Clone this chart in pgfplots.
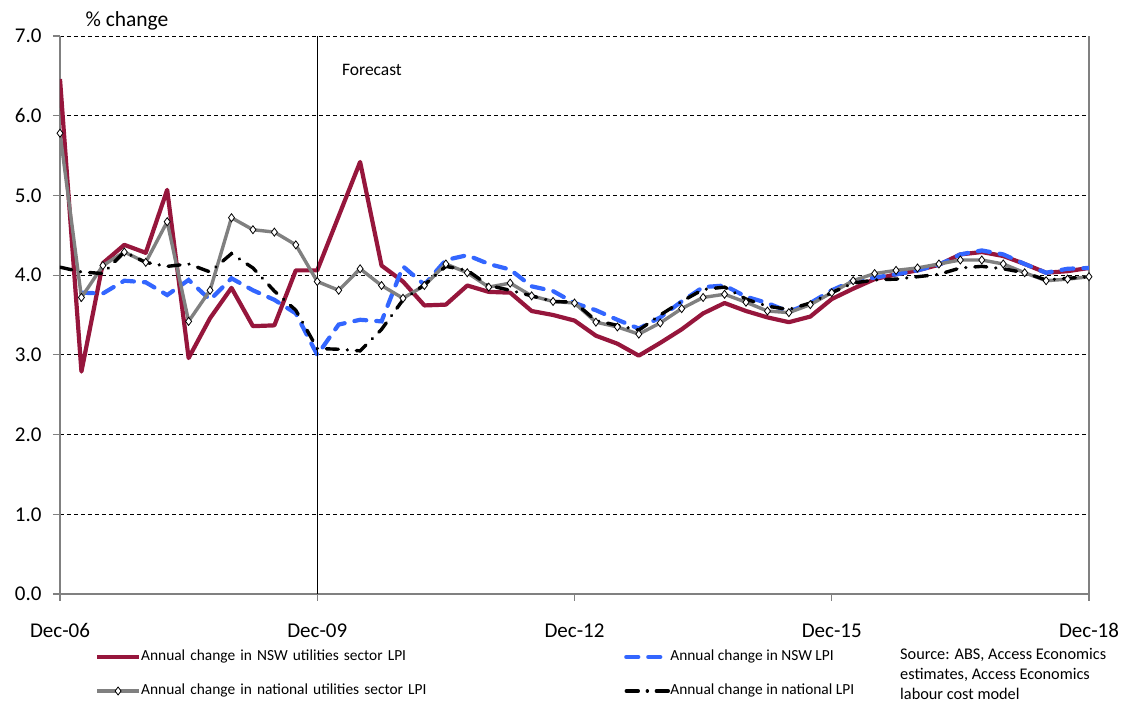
\documentclass[border=0pt]{standalone}
\usepackage{fontspec}
\setmainfont{Carlito}
\usepackage{pgfplots}
\pgfplotsset{compat=1.18}
\definecolor{nswred}{RGB}{150,22,60}
\definecolor{nswblue}{RGB}{51,102,255}
\definecolor{axgray}{RGB}{128,128,128}

\begin{document}
\begin{tikzpicture}
\useasboundingbox (-60pt,-109pt) rectangle (1070pt,594pt);
\begin{axis}[
  at={(0pt,0pt)}, anchor=origin,
  scale only axis, width=1029pt, height=558pt,
  xmin=0, xmax=48, ymin=0, ymax=7,
  axis x line*=bottom, axis y line*=box,
  axis line style={draw=axgray, line width=1.5pt},
  tick align=outside, major tick length=7pt,
  tick style={axgray, line width=1.2pt},
  ytick pos=left, xtick pos=bottom,
  ytick={0,1,2,3,4,5,6,7},
  xtick={0,12,24,36,48},
  xticklabels={Dec-06,Dec-09,Dec-12,Dec-15,Dec-18},
  /pgf/number format/assume math mode=true,
  yticklabel style={/pgf/number format/.cd, fixed, fixed zerofill, precision=1, /tikz/.cd, xshift=-8pt},
  xticklabel style={yshift=-19pt},
  tick label style={font=\fontsize{21}{25}\selectfont, black},
  ymajorgrids,
  major grid style={black, line width=0.8pt, dash pattern=on 4pt off 3pt},
  ylabel={\% change},
  ylabel style={rotate=-90, anchor=west, at={(axis description cs:0.0214,1.027)}, font=\fontsize{21.5}{25}\selectfont},
  legend columns=2,
  legend cell align=left,
  legend style={
    at={(axis description cs:0.034,-0.0995)}, anchor=north west,
    draw=none, fill=none, inner sep=0pt, outer sep=0pt,
    font=\fontsize{15.4}{18}\selectfont,
    row sep=19pt, column sep=0pt,
    nodes={inner xsep=0pt, inner ysep=0pt, text height=11pt, text depth=4pt},
    /tikz/column 2/.style={nodes={text width=483pt}},
  },
  legend image code/.code={%
    \draw[mark repeat=2,mark phase=2,#1] plot coordinates {(0pt,0pt) (21pt,0pt) (42pt,0pt)};
  },
]
\addplot[nswred, line width=4.2pt, line join=round] coordinates {
(0,6.46)(1,2.79)(2,4.15)(3,4.38)(4,4.28)(5,5.07)(6,2.96)(7,3.46)(8,3.84)(9,3.36)
(10,3.37)(11,4.06)(12,4.06)(13,4.74)(14,5.42)(15,4.12)(16,3.92)(17,3.62)(18,3.63)(19,3.87)
(20,3.79)(21,3.78)(22,3.55)(23,3.50)(24,3.43)(25,3.24)(26,3.14)(27,2.99)(28,3.15)(29,3.32)
(30,3.52)(31,3.65)(32,3.55)(33,3.47)(34,3.41)(35,3.48)(36,3.70)(37,3.83)(38,3.95)(39,4.01)
(40,4.06)(41,4.13)(42,4.26)(43,4.29)(44,4.24)(45,4.14)(46,4.03)(47,4.05)(48,4.09)
};
\addlegendentry{Annual change in NSW utilities sector LPI}
\addplot[nswblue, line width=4.2pt, line cap=round, dash pattern=on 12pt off 10pt] coordinates {
(1,3.78)(2,3.77)(3,3.93)(4,3.91)(5,3.75)(6,3.94)(7,3.69)(8,3.96)(9,3.81)
(10,3.69)(11,3.52)(12,3.00)(13,3.38)(14,3.44)(15,3.42)(16,4.11)(17,3.88)(18,4.19)(19,4.25)
(20,4.14)(21,4.07)(22,3.86)(23,3.80)(24,3.65)(25,3.56)(26,3.44)(27,3.33)(28,3.47)(29,3.67)
(30,3.85)(31,3.87)(32,3.73)(33,3.65)(34,3.54)(35,3.65)(36,3.81)(37,3.93)(38,3.97)(39,4.01)
(40,4.06)(41,4.13)(42,4.26)(43,4.31)(44,4.26)(45,4.14)(46,4.03)(47,4.08)(48,4.09)
};
\addlegendentry{Annual change in NSW LPI}
\addplot[axgray, line width=3.4pt, mark=diamond*, mark size=4pt,
  mark options={solid, fill=white, draw=black, line width=0.8pt}] coordinates {
(0,5.78)(1,3.72)(2,4.12)(3,4.29)(4,4.16)(5,4.67)(6,3.42)(7,3.81)(8,4.72)(9,4.57)
(10,4.54)(11,4.38)(12,3.92)(13,3.81)(14,4.08)(15,3.87)(16,3.71)(17,3.87)(18,4.14)(19,4.03)
(20,3.85)(21,3.90)(22,3.74)(23,3.67)(24,3.65)(25,3.41)(26,3.35)(27,3.26)(28,3.40)(29,3.58)
(30,3.72)(31,3.76)(32,3.66)(33,3.55)(34,3.53)(35,3.63)(36,3.78)(37,3.93)(38,4.02)(39,4.06)
(40,4.09)(41,4.14)(42,4.19)(43,4.19)(44,4.14)(45,4.03)(46,3.93)(47,3.95)(48,3.98)
};
\addlegendentry{Annual change in national utilities sector LPI}
\addplot[black, line width=3.4pt, line cap=round, dash pattern=on 12pt off 9pt on 0.1pt off 9pt] coordinates {
(0,4.10)(1,4.04)(2,4.02)(3,4.29)(4,4.16)(5,4.11)(6,4.14)(7,4.04)(8,4.27)(9,4.09)
(10,3.80)(11,3.56)(12,3.08)(13,3.07)(14,3.05)(15,3.32)(16,3.69)(17,3.88)(18,4.11)(19,4.06)
(20,3.87)(21,3.81)(22,3.74)(23,3.67)(24,3.66)(25,3.43)(26,3.37)(27,3.31)(28,3.50)(29,3.67)
(30,3.82)(31,3.85)(32,3.70)(33,3.61)(34,3.57)(35,3.65)(36,3.78)(37,3.90)(38,3.94)(39,3.95)
(40,3.98)(41,4.01)(42,4.09)(43,4.11)(44,4.08)(45,4.03)(46,3.94)(47,3.96)(48,3.98)
};
\addlegendentry{Annual change in national LPI}
\draw[black, line width=1pt] (axis cs:12,0) -- (axis cs:12,7);
\node[anchor=west, inner sep=0pt, font=\fontsize{17.5}{20}\selectfont] at (axis cs:13.15,6.574) {Forecast};
\end{axis}
\node[anchor=north west, align=left, inner sep=0pt, font=\fontsize{16.3}{20}\selectfont] at (840pt,-54pt)
  {Source: ABS, Access Economics\\estimates, Access Economics\\labour cost model};
\end{tikzpicture}
\end{document}
